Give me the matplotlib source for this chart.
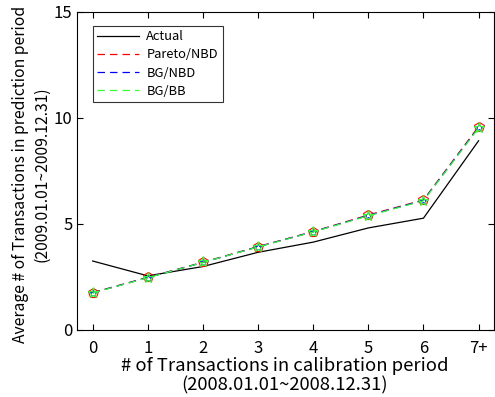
import numpy as np
import matplotlib.pyplot as plt

plt.rcParams['font.family'] = ['Noto Sans CJK KR', 'DejaVu Sans']

x_labels = ["0", "1", "2", "3", "4", "5", "6", "7+"]
actual = [3.25, 2.55, 2.99, 3.66, 4.14, 4.81, 5.27, 8.92]
pareto_nbd = [1.76, 2.48, 3.19, 3.93, 4.64, 5.42, 6.13, 9.59]
bg_nbd = [1.75, 2.47, 3.18, 3.92, 4.63, 5.40, 6.11, 9.55]
bg_bb = [1.74, 2.46, 3.18, 3.91, 4.62, 5.38, 6.09, 9.52]

x = np.arange(len(x_labels))

fig = plt.figure(figsize=(4.95, 3.97), dpi=100)
ax = fig.add_axes([0.156, 0.169, 0.842, 0.801])

ax.plot(x, actual, color="black", lw=0.9, label="Actual")
ax.plot(x, pareto_nbd, color="red", lw=0.9, ls=(0, (6, 4)), marker="p",
        mfc="none", mec="red", ms=7, mew=0.8, label="Pareto/NBD")
ax.plot(x, bg_nbd, color="blue", lw=0.9, ls=(0, (6, 4)), marker="*",
        mfc="none", mec="blue", ms=6, mew=0.6, label="BG/NBD")
ax.plot(x, bg_bb, color="#33ff33", lw=0.9, ls=(0, (6, 4)), marker="*",
        mfc="none", mec="#33ff33", ms=8, mew=0.8, label="BG/BB")

ax.set_xlim(-0.28, 7.28)
ax.set_ylim(0, 15)
ax.set_xticks(x)
ax.set_xticklabels(x_labels)
ax.set_yticks([0, 5, 10, 15])
ax.tick_params(direction="in", top=True, right=True, labelsize=12, length=4)
ax.tick_params(axis="x", pad=7)

ax.set_xlabel("# of Transactions in calibration period\n(2008.01.01~2008.12.31)",
              fontsize=13.3, linespacing=1.1)
ax.set_ylabel("Average # of Transactions in prediction period\n(2009.01.01~2009.12.31)",
              fontsize=11.3, linespacing=1.35)
ax.xaxis.set_label_coords(0.498, -0.145)
ax.yaxis.set_label_coords(-0.110, 0.49)
ax.xaxis.label.set_va("center")
ax.yaxis.label.set_va("center")

leg = ax.legend(loc="upper left", bbox_to_anchor=(0.022, 0.977), fontsize=9.3,
                frameon=True, fancybox=False, edgecolor="black",
                handlelength=3.2, borderpad=0.35, labelspacing=0.4,
                handletextpad=0.6)
leg.get_frame().set_linewidth(0.8)
for h in leg.legend_handles:
    h.set_marker("")

fig.savefig("out.png", dpi=100)
